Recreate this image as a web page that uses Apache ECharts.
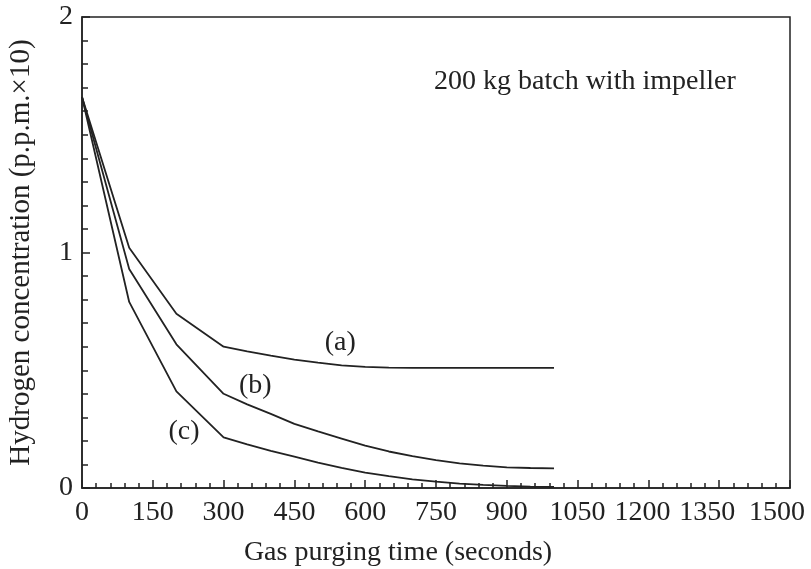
<!DOCTYPE html>
<html>
<head>
<meta charset="utf-8">
<script src="https://cdn.jsdelivr.net/npm/echarts@6/dist/echarts.min.js"></script>
<style>
  html, body { margin: 0; padding: 0; background: #fff; }
  #chart { width: 811px; height: 569px; }
</style>
</head>
<body>
<div id="chart"></div>
<script>
// purging time (s)
const times = [0, 100, 200, 300, 350, 400, 450, 500, 550, 600, 650, 700, 750, 800, 850, 900, 950, 1000];
// hydrogen concentration (p.p.m. x10)
const curveA = [1.66, 1.02, 0.74, 0.60, 0.580, 0.562, 0.545, 0.532, 0.521, 0.514, 0.511, 0.510, 0.510, 0.510, 0.510, 0.510, 0.510, 0.510];
const curveB = [1.66, 0.93, 0.61, 0.40, 0.355, 0.315, 0.272, 0.240, 0.210, 0.180, 0.155, 0.135, 0.118, 0.105, 0.095, 0.088, 0.085, 0.083];
const curveC = [1.66, 0.79, 0.41, 0.215, 0.185, 0.158, 0.133, 0.108, 0.085, 0.065, 0.050, 0.037, 0.027, 0.019, 0.013, 0.009, 0.006, 0.005];
const curveNames = ["(a)", "(b)", "(c)"];
const xTicks = [0, 150, 300, 450, 600, 750, 900, 1050, 1200, 1350, 1500];

const ink = "#222";
const serif = "'Liberation Serif', 'DejaVu Serif', serif";
const fs = 28;

const chart = echarts.init(document.getElementById("chart"));

function pairs(vals) {
  return times.map((t, i) => [t, vals[i]]);
}

function curve(name, vals, labelAt) {
  return {
    name: name,
    type: "line",
    data: pairs(vals),
    symbol: "none",
    lineStyle: { color: ink, width: 1.8 },
    markPoint: {
      symbol: "circle",
      symbolSize: 1,
      itemStyle: { color: "transparent" },
      label: {
        show: true,
        position: "inside",
        formatter: name,
        color: ink,
        fontFamily: serif,
        fontSize: fs
      },
      data: [{ coord: labelAt }]
    }
  };
}

// the last few x labels sit a bit left of their ticks in the original
function xLabel(v) {
  if (!xTicks.includes(v)) return "";
  if (v === 1500) return "{r26|" + v + "}";
  if (v === 1350) return "{r24|" + v + "}";
  if (v === 1200) return "{r12|" + v + "}";
  return String(v);
}

const option = {
  animation: false,
  grid: {
    left: 82, right: 21, top: 17, bottom: 81,
    outerBoundsMode: "none",
    containLabel: false,
    show: true,
    borderColor: ink,
    borderWidth: 1.5
  },
  xAxis: {
    type: "value",
    min: 0,
    max: 1500,
    interval: 150,
    name: "Gas purging time (seconds)",
    nameLocation: "middle",
    nameGap: 51,
    nameTextStyle: { color: ink, fontFamily: serif, fontSize: fs, padding: [0, 76, 0, 0] },
    axisLine: { lineStyle: { color: ink, width: 1.5 } },
    axisTick: { inside: true, length: 8, lineStyle: { color: ink, width: 1.5 } },
    minorTick: { show: true, splitNumber: 5, length: 5, lineStyle: { color: ink, width: 1.5 } },
    splitLine: { show: false },
    axisLabel: {
      color: ink, fontFamily: serif, fontSize: fs, margin: 11,
      formatter: xLabel,
      rich: {
        r26: { fontFamily: serif, fontSize: fs, color: ink, padding: [0, 26, 0, 0] },
        r24: { fontFamily: serif, fontSize: fs, color: ink, padding: [0, 24, 0, 0] },
        r12: { fontFamily: serif, fontSize: fs, color: ink, padding: [0, 12, 0, 0] }
      }
    }
  },
  yAxis: {
    type: "value",
    min: 0,
    max: 2,
    interval: 1,
    name: "Hydrogen concentration (p.p.m.×10)",
    nameLocation: "middle",
    nameGap: 46,
    nameTextStyle: { color: ink, fontFamily: serif, fontSize: 29 },
    axisLine: { show: true, lineStyle: { color: ink, width: 1.5 } },
    axisTick: { inside: true, length: 8, lineStyle: { color: ink, width: 1.5 } },
    minorTick: { show: true, splitNumber: 10, length: 6, lineStyle: { color: ink, width: 1.5 } },
    splitLine: { show: false },
    axisLabel: { color: ink, fontFamily: serif, fontSize: fs, margin: 9 }
  },
  graphic: [{
    type: "text",
    left: 434,
    top: 68,
    style: {
      text: "200 kg batch with impeller",
      fill: ink,
      font: fs + "px " + serif
    }
  }],
  series: [
    curve(curveNames[0], curveA, [547, 0.616]),
    curve(curveNames[1], curveB, [367, 0.433]),
    curve(curveNames[2], curveC, [216, 0.238])
  ]
};

chart.setOption(option);
</script>
</body>
</html>
